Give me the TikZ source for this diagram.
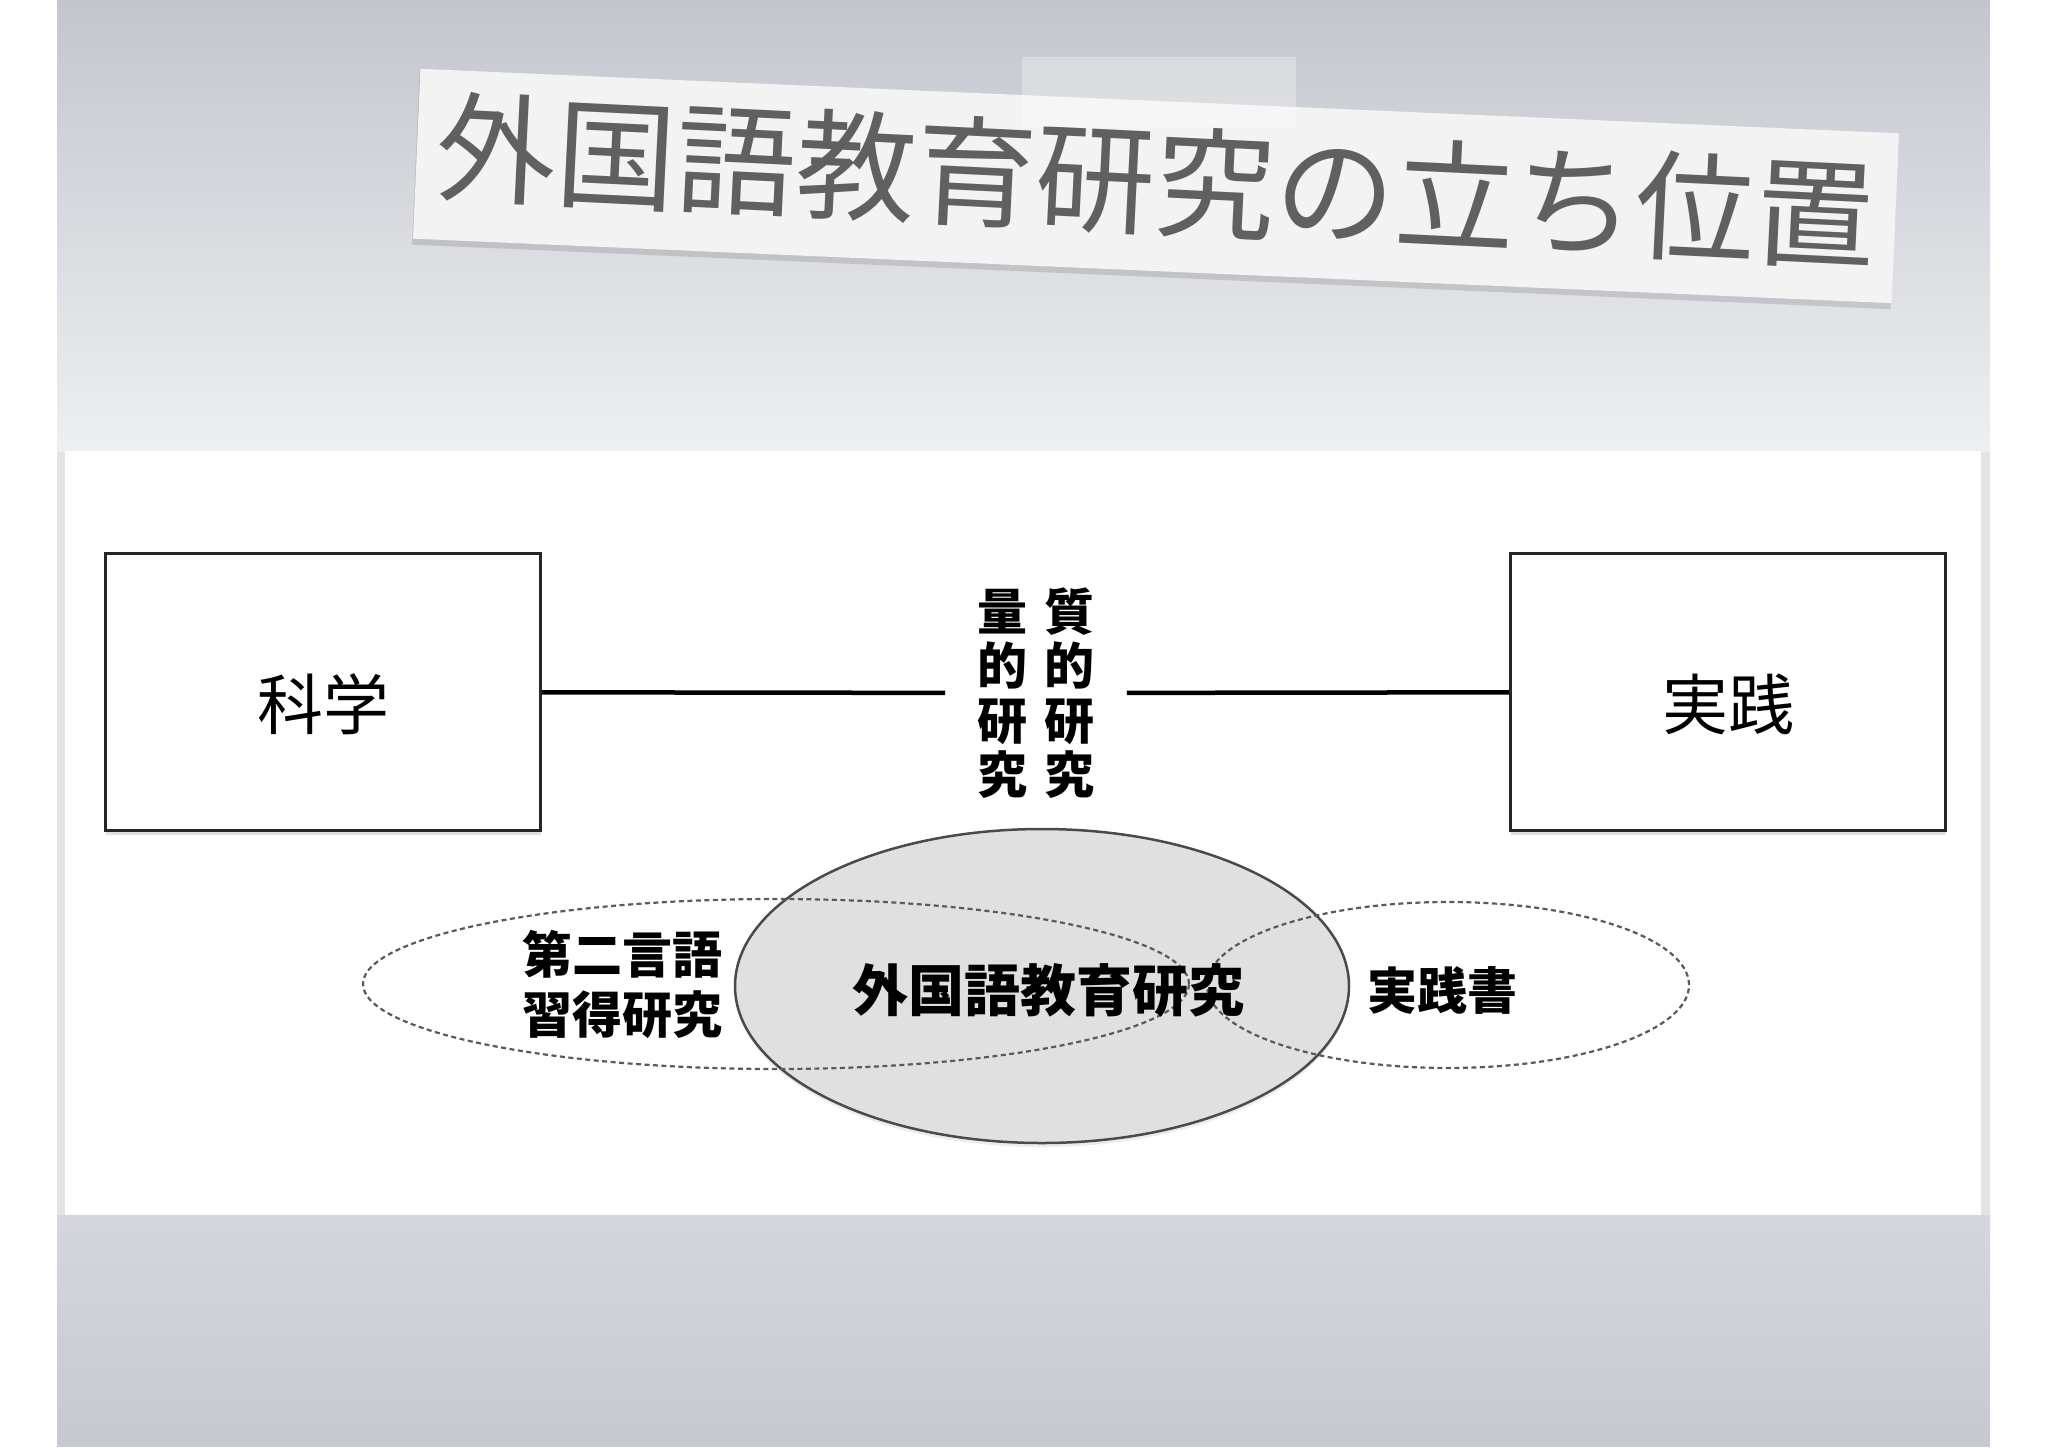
\documentclass[tikz,border=0pt]{standalone}
\usepackage{fontspec}
\newfontfamily\jp{Noto Sans CJK JP}
\usetikzlibrary{shapes.geometric,shadows}
\definecolor{slidetop}{HTML}{C3C6CD}
\definecolor{slidemid}{HTML}{EEEFF2}
\definecolor{slidebot}{HTML}{C6C9D0}
\definecolor{papercol}{HTML}{F3F3F4}
\definecolor{titlecol}{HTML}{5F6062}
\definecolor{ellfill}{HTML}{E0E0E1}
\definecolor{ellline}{HTML}{4A4A4A}
\definecolor{dashcol}{HTML}{5A5A5A}

\begin{document}
\begin{tikzpicture}[x=1pt,y=-1pt,thick,
    box node/.style={rectangle,draw=black!85,line width=3pt,fill=white,
      minimum width=435pt,minimum height=277pt,text height=84pt,text depth=10pt,
      drop shadow={opacity=0.25,shadow xshift=0pt,shadow yshift=-4pt},
      font=\jp\fontsize{66}{72}\selectfont},
    dash node/.style={ellipse,draw=dashcol,dash pattern=on 5pt off 3.5pt,
      line width=2.2pt,inner sep=0pt},
    label node/.style={align=center,inner sep=0pt},
    paper node/.style={rotate=-2.5,minimum width=1480pt,minimum height=170pt}]
  % slide background
  \useasboundingbox (0,0) rectangle (2048,1448);
  \fill[white] (0,0) rectangle (2048,1448);
  \fill[slidemid!95!black] (57,0) rectangle (1990,1446);
  \shade[top color=slidetop,bottom color=slidemid] (57,0) rectangle (1990,451);
  \shade[top color=slidebot!75!white,bottom color=slidebot] (57,1215) rectangle (1990,1446);
  \fill[white] (65,451) rectangle (1981,1215);

  % title strip
  \node[paper node,fill=black,opacity=0.12] (papershadow) at (1155,192) {};
  \node[paper node,fill=papercol] (paper) at (1156,186) {};
  \node[rotate=-2.8,text=titlecol,
        font=\jp\fontsize{120}{130}\selectfont] (title) at (1156,181) {外国語教育研究の立ち位置};
  \node[fill=white,opacity=0.3,minimum width=274pt,minimum height=70pt] (tape) at (1159,92) {};

  % upper row
  \node[box node] (kagaku) at (323,692) {科学};
  \node[box node] (jissen) at (1728,692) {実践};
  \node[label node,inner xsep=32pt,
        font=\jp\bfseries\fontsize{50}{54.5}\selectfont] (hoho) at (1036,693)
        {量\hspace{17pt}質\\的\hspace{17pt}的\\研\hspace{17pt}研\\究\hspace{17pt}究};

  \path
    (kagaku) edge [line width=4.5pt] (hoho)
    (hoho) edge [line width=4.5pt] (jissen)
  ;

  % lower row
  \node[ellipse,draw=ellline,fill=ellfill,line width=2.5pt,inner sep=0pt,
        minimum width=614pt,minimum height=314pt,
        drop shadow={opacity=0.15,shadow xshift=0pt,shadow yshift=-4pt}] (gaikoku) at (1042,986) {};
  \node[dash node,minimum width=826pt,minimum height=170pt] (dainigengo) at (776,984) {};
  \node[dash node,minimum width=482pt,minimum height=166pt] (jissensho) at (1448,985) {};

  \node[label node,font=\jp\bfseries\fontsize{56}{60}\selectfont] (gaikokutext) at (1048,990) {外国語教育研究};
  \node[label node,font=\jp\bfseries\fontsize{50}{60}\selectfont] (slatext) at (622,984) {第二言語\\習得研究};
  \node[label node,font=\jp\bfseries\fontsize{50}{60}\selectfont] (jissenshotext) at (1442,990) {実践書};
\end{tikzpicture}
\end{document}
